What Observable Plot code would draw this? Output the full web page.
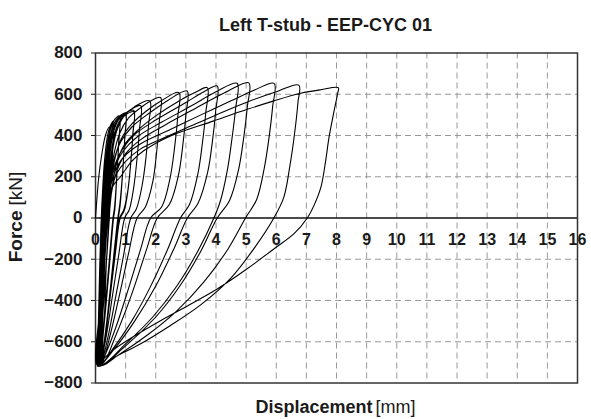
<!DOCTYPE html>
<html>
<head>
<meta charset="utf-8">
<script src="https://cdn.jsdelivr.net/npm/d3@7"></script>
<script src="https://cdn.jsdelivr.net/npm/@observablehq/plot@0.6"></script>
<style>
  html, body { margin: 0; padding: 0; background: #fff; }
</style>
</head>
<body>
<div id="chart"></div>
<script>
// ---- Data: [displacement (mm), force (kN)], in test order ----
const cycle01 = [[0,0],[0.05,100],[0.11,200],[0.2,300],[0.33,400],[0.45,440],[0.42,300],[0.36,120],[0.31,0],[0.24,-220],[0.15,-470],[0.07,-700]];
const cycle02 = [[0.1,-480],[0.14,-240],[0.18,-40],[0.23,120],[0.3,280],[0.4,400],[0.5,450],[0.6,470],[0.57,340],[0.51,160],[0.45,0],[0.36,-210],[0.26,-420],[0.16,-620],[0.09,-710]];
const cycle02b = [[0.12,-470],[0.16,-230],[0.2,-40],[0.25,110],[0.33,270],[0.43,390],[0.52,440],[0.6,458],[0.57,330],[0.51,150],[0.46,0],[0.37,-200],[0.27,-410],[0.17,-610],[0.08,-712]];
const cycle03 = [[0.13,-470],[0.17,-250],[0.22,-60],[0.27,90],[0.34,260],[0.44,400],[0.6,470],[0.8,495],[0.77,370],[0.7,190],[0.63,50],[0.58,0],[0.46,-200],[0.33,-420],[0.2,-610],[0.11,-712]];
const cycle03b = [[0.15,-460],[0.19,-240],[0.24,-60],[0.29,90],[0.36,250],[0.47,390],[0.63,462],[0.8,488],[0.77,360],[0.7,180],[0.64,40],[0.6,0],[0.48,-200],[0.35,-420],[0.22,-610],[0.12,-710]];
const cycle04 = [[0.15,-470],[0.2,-250],[0.26,-60],[0.32,90],[0.39,260],[0.5,400],[0.68,475],[0.85,500],[1.0,510],[0.97,390],[0.9,220],[0.81,70],[0.74,0],[0.6,-190],[0.45,-400],[0.3,-590],[0.16,-705]];
const cycle04b = [[0.17,-460],[0.22,-240],[0.28,-50],[0.34,90],[0.42,255],[0.53,395],[0.7,468],[0.86,495],[1.0,503],[0.97,385],[0.9,215],[0.82,65],[0.76,0],[0.62,-190],[0.47,-400],[0.32,-590],[0.17,-708]];
const cycle05 = [[0.2,-460],[0.26,-240],[0.32,-50],[0.38,100],[0.46,270],[0.57,400],[0.76,475],[1.0,508],[1.27,522],[1.24,410],[1.17,270],[1.07,130],[0.94,40],[0.8,0],[0.65,-160],[0.5,-340],[0.35,-530],[0.19,-695]];
const cycle05b = [[0.22,-455],[0.28,-230],[0.34,-40],[0.41,110],[0.5,275],[0.62,400],[0.8,470],[1.02,502],[1.27,515],[1.24,405],[1.17,265],[1.07,125],[0.95,35],[0.82,0],[0.67,-160],[0.52,-340],[0.37,-530],[0.21,-700]];
const cycle06 = [[0.23,-450],[0.29,-220],[0.36,-30],[0.44,130],[0.54,290],[0.68,420],[0.92,495],[1.2,528],[1.5,545],[1.46,430],[1.38,290],[1.27,150],[1.12,40],[0.97,0],[0.77,-180],[0.56,-380],[0.36,-570],[0.16,-708]];
const cycle07 = [[0.2,-460],[0.26,-220],[0.34,-20],[0.43,140],[0.54,300],[0.7,420],[0.95,495],[1.3,540],[1.8,568],[1.76,450],[1.68,300],[1.55,160],[1.36,45],[1.17,0],[0.92,-190],[0.66,-390],[0.41,-580],[0.18,-710]];
const cycle08 = [[0.23,-450],[0.3,-190],[0.38,10],[0.48,170],[0.6,300],[0.8,410],[1.1,485],[1.5,535],[1.8,565],[2.16,584],[2.12,470],[2.03,320],[1.9,175],[1.66,55],[1.38,0],[1.1,-170],[0.8,-370],[0.5,-560],[0.2,-712]];
const cycle09 = [[0.25,-450],[0.32,-180],[0.41,10],[0.51,160],[0.64,285],[0.86,385],[1.2,455],[1.7,520],[2.2,570],[2.77,608],[2.73,490],[2.62,335],[2.47,190],[2.2,55],[1.83,0],[1.5,-150],[1.1,-340],[0.7,-520],[0.36,-650],[0.14,-714]];
const cycle10 = [[0.19,-450],[0.27,-170],[0.36,20],[0.47,165],[0.61,280],[0.84,370],[1.2,440],[1.8,510],[2.4,570],[3.04,616],[3.0,500],[2.9,355],[2.75,205],[2.45,65],[2.05,0],[1.7,-150],[1.2,-370],[0.7,-560],[0.26,-702]];
const cycle11 = [[0.31,-430],[0.38,-160],[0.46,20],[0.56,155],[0.71,270],[0.96,355],[1.4,425],[2.0,495],[2.8,570],[3.3,608],[3.71,632],[3.66,510],[3.55,365],[3.4,215],[3.12,65],[2.82,0],[2.4,-150],[1.8,-340],[1.2,-500],[0.6,-630],[0.12,-714]];
const cycle12 = [[0.18,-440],[0.27,-160],[0.37,20],[0.5,165],[0.66,265],[0.92,340],[1.3,405],[2.0,475],[3.0,560],[3.6,612],[4.04,640],[3.99,520],[3.88,370],[3.72,220],[3.4,70],[3.05,0],[2.6,-150],[2.0,-330],[1.3,-500],[0.65,-630],[0.1,-716]];
const cycle13 = [[0.16,-440],[0.25,-160],[0.35,15],[0.48,155],[0.65,250],[0.92,325],[1.4,395],[2.2,465],[3.2,545],[4.0,612],[4.7,653],[4.65,530],[4.53,385],[4.38,235],[4.15,85],[3.93,0],[3.4,-160],[2.7,-330],[1.9,-480],[1.0,-610],[0.2,-708]];
const cycle14 = [[0.25,-430],[0.33,-150],[0.43,15],[0.56,145],[0.74,240],[1.02,315],[1.5,380],[2.3,450],[3.3,530],[4.3,608],[5.09,655],[5.04,540],[4.92,390],[4.75,235],[4.45,85],[4.04,0],[3.5,-160],[2.8,-330],[2.0,-480],[1.0,-620],[0.1,-716]];
const cycle15 = [[0.16,-440],[0.24,-160],[0.34,10],[0.47,135],[0.65,225],[0.93,295],[1.5,360],[2.5,430],[3.5,500],[4.5,568],[5.3,622],[5.93,653],[5.88,540],[5.76,390],[5.6,240],[5.35,90],[4.98,0],[4.4,-150],[3.6,-310],[2.7,-450],[1.7,-570],[0.8,-660],[0.15,-714]];
const cycle16 = [[0.2,-450],[0.28,-170],[0.38,0],[0.52,130],[0.7,215],[1.0,275],[1.5,335],[2.05,374],[3.0,435],[3.93,495],[5.0,560],[6.0,612],[6.75,644],[6.72,560],[6.6,400],[6.45,250],[6.25,100],[5.92,0],[5.3,-140],[4.5,-290],[3.5,-420],[2.5,-520],[1.5,-610],[0.7,-670],[0.08,-718]];
const cycle17 = [[0.13,-450],[0.2,-200],[0.3,-20],[0.45,100],[0.6,160],[0.83,200],[1.2,275],[1.6,326],[2.49,398],[3.93,471],[5.04,527],[5.92,568],[6.81,605],[7.48,622],[8.06,632],[8.04,605],[7.92,519],[7.75,390],[7.64,277],[7.48,148],[7.25,60],[7.03,0],[6.6,-75],[5.92,-150],[5.0,-250],[4.04,-344],[3.0,-430],[2.16,-498],[1.05,-594],[0.5,-650],[0.06,-718]];

const xTicks = [0,1,2,3,4,5,6,7,8,9,10,11,12,13,14,15,16];
const yTicks = [-800,-600,-400,-200,0,200,400,600,800];

const titleText = "Left T-stub - EEP-CYC 01";
const xLabelBold = "Displacement";
const xLabelUnit = "[mm]";
const yLabelBold = "Force";
const yLabelUnit = "[kN]";

// ---- Build table ----
const cycles = [cycle01,cycle02,cycle02b,cycle03,cycle03b,cycle04,cycle04b,cycle05,cycle05b,cycle06,cycle07,cycle08,cycle09,
                cycle10,cycle11,cycle12,cycle13,cycle14,cycle15,cycle16,cycle17];
const rows = cycles.flatMap((c, i) => c.map(([d, f]) => ({cycle: i + 1, d, f})));

const gridYVals = yTicks.filter(v => v !== 0 && Math.abs(v) !== 800);
const gridXVals = xTicks.filter(v => v > 0 && v < 16);
const fmt = v => v < 0 ? "\u2212" + Math.abs(v) : String(v);
const font = "'Liberation Sans', Arial, Helvetica, sans-serif";

const chart = Plot.plot({
  width: 591,
  height: 419,
  marginLeft: 95,
  marginRight: 14,
  marginTop: 52.5,
  marginBottom: 36.5,
  style: {fontFamily: font, fontSize: "17px", fontWeight: "bold", color: "#1a1a1a", background: "#fff", overflow: "visible"},
  x: {domain: [0, 16], axis: null},
  y: {domain: [-800, 800], ticks: yTicks, tickFormat: fmt, tickSize: 4, tickPadding: 9, label: null},
  marks: [
    Plot.ruleY(gridYVals, {stroke: "#999", strokeWidth: 1, strokeDasharray: "6,4"}),
    Plot.ruleX(gridXVals, {stroke: "#999", strokeWidth: 1, strokeDasharray: "6,4"}),
    Plot.ruleY([0], {stroke: "#111", strokeWidth: 1.5}),
    Plot.frame({stroke: "#333", strokeWidth: 1.5}),
    Plot.text(xTicks, {x: d => d, y: 0, dy: 22, text: d => String(d), fontSize: 16, fontWeight: "bold", fill: "#1a1a1a", lineAnchor: "middle"}),
    Plot.line(rows, {x: "d", y: "f", stroke: "#000", strokeWidth: 1.1, curve: "catmull-rom"}),
    Plot.text([titleText], {frameAnchor: "top", dx: -11, dy: -27.5, lineAnchor: "middle", fontSize: 18, fontWeight: "bold", fill: "#1a1a1a"}),
    Plot.text([xLabelBold], {frameAnchor: "bottom", dx: 36, dy: 24, lineAnchor: "middle", textAnchor: "end", fontSize: 18, fontWeight: "bold", fill: "#1a1a1a"}),
    Plot.text([xLabelUnit], {frameAnchor: "bottom", dx: 39, dy: 24, lineAnchor: "middle", textAnchor: "start", fontSize: 18, fontWeight: "normal", fill: "#1a1a1a"}),
    Plot.text([yLabelBold], {frameAnchor: "left", dx: -80, dy: -7.5, rotate: -90, lineAnchor: "middle", textAnchor: "end", fontSize: 19, fontWeight: "bold", fill: "#1a1a1a"}),
    Plot.text([yLabelUnit], {frameAnchor: "left", dx: -80, dy: -12.5, rotate: -90, lineAnchor: "middle", textAnchor: "start", fontSize: 19, fontWeight: "normal", fill: "#1a1a1a"})
  ]
});
document.getElementById("chart").appendChild(chart);
</script>
</body>
</html>
